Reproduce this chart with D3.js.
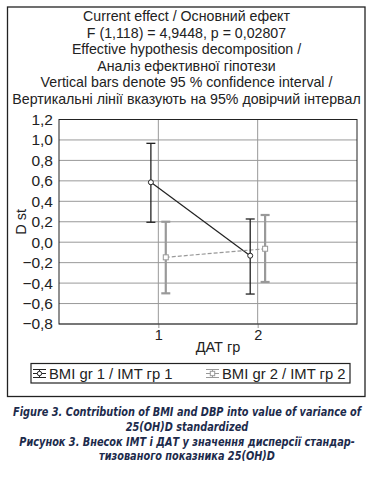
<!DOCTYPE html>
<html>
<head>
<meta charset="utf-8">
<script src="https://cdn.jsdelivr.net/npm/d3@7"></script>
<style>
  body { margin: 0; background: #fff; }
  svg { display: block; }
</style>
</head>
<body>
<div id="chart"></div>
<script>
const groups = [1, 2];
const seriesNames = ['BMI gr 1 / IMT гр 1', 'BMI gr 2 / IMT гр 2'];
const means1 = [0.586, -0.132];
const lower1 = [0.195, -0.507];
const upper1 = [0.967, 0.227];
const means2 = [-0.148, -0.064];
const lower2 = [-0.50, -0.389];
const upper2 = [0.20, 0.266];
const yTicks = [1.2, 1.0, 0.8, 0.6, 0.4, 0.2, 0.0, -0.2, -0.4, -0.6, -0.8];
const titleLines = [
  'Current effect / Основний ефект',
  'F (1,118) = 4,9448, p = 0,02807',
  'Effective hypothesis decomposition /',
  'Аналіз ефективної гіпотези',
  'Vertical bars denote 95 % confidence interval /',
  'Вертикальні лінії вказують на 95% довірчий інтервал'
];
const captionLines = [
  'Figure 3. Contribution of BMI and DBP into value of variance of',
  '25(OH)D standardized',
  'Рисунок 3. Внесок ІМТ і ДАТ у значення дисперсії стандар-',
  'тизованого показника 25(OH)D'
];

const width = 374, height = 479;
const plot = { left: 59, right: 357, top: 119.5, bottom: 324 };
const font = 'Liberation Sans, Arial, sans-serif';

const svg = d3.select('#chart').append('svg')
  .attr('width', width)
  .attr('height', height);

const x = d3.scaleLinear().domain([0, 3]).range([plot.left, plot.right]);
const y = d3.scaleLinear().domain([-0.8, 1.2]).range([plot.bottom, plot.top]);

// outer frame
svg.append('rect')
  .attr('x', 7.5).attr('y', 7)
  .attr('width', 357.5).attr('height', 389.5)
  .attr('fill', 'none').attr('stroke', '#222').attr('stroke-width', 1.3);

// title block
svg.append('g').selectAll('text')
  .data(titleLines)
  .enter().append('text')
  .attr('x', 186.5)
  .attr('y', (d, i) => 21 + i * 16.6)
  .attr('text-anchor', 'middle')
  .style('font-family', font)
  .style('font-size', '14.2px')
  .attr('fill', '#222')
  .text(d => d);

// grid
const grid = svg.append('g');
grid.selectAll('line.h')
  .data(yTicks)
  .enter().append('line')
  .attr('x1', plot.left).attr('x2', plot.right)
  .attr('y1', d => y(d)).attr('y2', d => y(d))
  .attr('stroke', '#999').attr('stroke-width', 1);
grid.selectAll('line.v')
  .data(groups)
  .enter().append('line')
  .attr('x1', d => x(d)).attr('x2', d => x(d))
  .attr('y1', plot.top).attr('y2', plot.bottom)
  .attr('stroke', '#999').attr('stroke-width', 1);

// axes
const yAxis = svg.append('g')
  .attr('transform', `translate(${plot.left},0)`)
  .call(d3.axisLeft(y).tickValues(yTicks).tickSize(0).tickPadding(6)
    .tickFormat(d => d3.format('.1f')(d).replace('.', ',').replace('-', '−')));
yAxis.select('.domain').remove();
yAxis.selectAll('text')
  .style('font-family', font).style('font-size', '15.5px').attr('fill', '#222');

const xAxis = svg.append('g')
  .attr('transform', `translate(0,${plot.bottom})`)
  .call(d3.axisBottom(x).tickValues(groups).tickSize(4).tickPadding(2).tickFormat(d3.format('d')));
xAxis.select('.domain').remove();
xAxis.selectAll('line').attr('stroke', '#999');
xAxis.selectAll('text')
  .style('font-family', font).style('font-size', '14.5px').attr('fill', '#222');

// plot border
svg.append('rect')
  .attr('x', plot.left).attr('y', plot.top)
  .attr('width', plot.right - plot.left).attr('height', plot.bottom - plot.top)
  .attr('fill', 'none').attr('stroke', '#222').attr('stroke-width', 1);

// axis titles
svg.append('text')
  .attr('transform', `translate(26,${(plot.top + plot.bottom) / 2}) rotate(-90)`)
  .attr('text-anchor', 'middle')
  .style('font-family', font).style('font-size', '14.5px').attr('fill', '#222')
  .text('D st');
svg.append('text')
  .attr('x', 218).attr('y', 352)
  .attr('text-anchor', 'middle')
  .style('font-family', font).style('font-size', '14.5px').attr('fill', '#222')
  .text('ДАТ гр');

// series
const series = [
  { means: means1, lower: lower1, upper: upper1, offset: -0.075, color: '#222', barWidth: 1.3, lineDash: null, marker: 'circle' },
  { means: means2, lower: lower2, upper: upper2, offset: 0.075, color: '#999', barWidth: 2.2, lineDash: '4,2', marker: 'square' }
];

// connecting lines first
series.forEach(s => {
  const pts = groups.map((g, i) => [x(g + s.offset), y(s.means[i])]);
  svg.append('path')
    .attr('d', d3.line()(pts))
    .attr('fill', 'none')
    .attr('stroke', s.color)
    .attr('stroke-width', 1.2)
    .attr('stroke-dasharray', s.lineDash);
});

series.forEach(s => {
  const g = svg.append('g');
  groups.forEach((grp, i) => {
    const cx = x(grp + s.offset);
    g.append('line')
      .attr('x1', cx).attr('x2', cx)
      .attr('y1', y(s.lower[i])).attr('y2', y(s.upper[i]))
      .attr('stroke', s.color).attr('stroke-width', s.barWidth);
    [s.lower[i], s.upper[i]].forEach(v => {
      g.append('line')
        .attr('x1', cx - 4.5).attr('x2', cx + 4.5)
        .attr('y1', y(v)).attr('y2', y(v))
        .attr('stroke', s.color).attr('stroke-width', s.barWidth);
    });
    if (s.marker === 'circle') {
      g.append('circle')
        .attr('cx', cx).attr('cy', y(s.means[i])).attr('r', 2.5)
        .attr('fill', '#fff').attr('stroke', s.color).attr('stroke-width', 1);
    } else {
      g.append('rect')
        .attr('x', cx - 2.5).attr('y', y(s.means[i]) - 2.5)
        .attr('width', 5).attr('height', 5)
        .attr('fill', '#fff').attr('stroke', s.color).attr('stroke-width', 1);
    }
  });
});

// legend
svg.append('rect')
  .attr('x', 31).attr('y', 363.5)
  .attr('width', 319).attr('height', 19.5)
  .attr('fill', 'none').attr('stroke', '#222').attr('stroke-width', 1.2);

const legendX = [33, 206];
series.forEach((s, i) => {
  const lg = svg.append('g').attr('transform', `translate(${legendX[i]},373.5)`);
  [-4, 0, 4].forEach(dy => {
    lg.append('line')
      .attr('x1', 0).attr('x2', 13).attr('y1', dy).attr('y2', dy)
      .attr('stroke', s.color).attr('stroke-width', 1);
  });
  lg.append('line')
    .attr('x1', 6.5).attr('x2', 6.5).attr('y1', -4).attr('y2', 4)
    .attr('stroke', s.color).attr('stroke-width', 1);
  if (s.marker === 'circle') {
    lg.append('circle').attr('cx', 6.5).attr('cy', 0).attr('r', 2.2)
      .attr('fill', '#fff').attr('stroke', s.color);
  } else {
    lg.append('rect').attr('x', 4.3).attr('y', -2.2).attr('width', 4.4).attr('height', 4.4)
      .attr('fill', '#fff').attr('stroke', s.color);
  }
  lg.append('text')
    .attr('x', 16).attr('y', 5.5)
    .style('font-family', font).style('font-size', '14.8px').attr('fill', '#222')
    .text(seriesNames[i]);
});

// caption (horizontally condensed, like the journal's narrow face)
svg.append('g').selectAll('text')
  .data(captionLines)
  .enter().append('text')
  .attr('transform', (d, i) => `translate(187,${416 + i * 14.8}) scale(0.775,1)`)
  .attr('text-anchor', 'middle')
  .style('font-family', '"DejaVu Sans", sans-serif')
  .style('font-size', '12.6px')
  .style('font-weight', 'bold')
  .style('font-style', 'italic')
  .attr('fill', '#1d2b4c')
  .text(d => d);
</script>
</body>
</html>
